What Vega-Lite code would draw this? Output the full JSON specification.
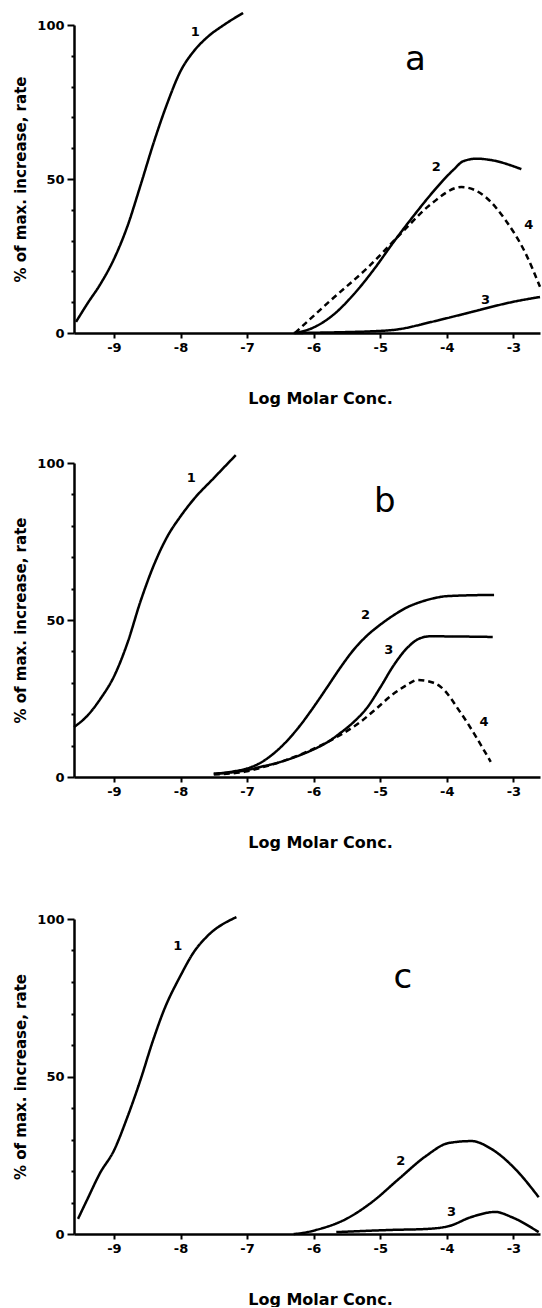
{
  "$schema": "https://vega.github.io/schema/vega-lite/v6.json",
  "padding": {"left": 13, "top": 7, "right": 0, "bottom": 0},
  "background": "white",
  "spacing": 44,
  "datasets": {
    "curves": [
      {"p":"a","c":"1","x":-9.57,"y":3.6},{"p":"a","c":"1","x":-9.4,"y":9.5},{"p":"a","c":"1","x":-9.2,"y":16},{"p":"a","c":"1","x":-9.0,"y":24},{"p":"a","c":"1","x":-8.8,"y":34.5},{"p":"a","c":"1","x":-8.6,"y":48},{"p":"a","c":"1","x":-8.4,"y":62},{"p":"a","c":"1","x":-8.2,"y":74.5},{"p":"a","c":"1","x":-8.0,"y":85},{"p":"a","c":"1","x":-7.8,"y":91.5},{"p":"a","c":"1","x":-7.6,"y":96},{"p":"a","c":"1","x":-7.35,"y":100},{"p":"a","c":"1","x":-7.06,"y":103.9},
      {"p":"a","c":"2","x":-6.28,"y":0},{"p":"a","c":"2","x":-6.0,"y":1.8},{"p":"a","c":"2","x":-5.7,"y":6},{"p":"a","c":"2","x":-5.4,"y":12.5},{"p":"a","c":"2","x":-5.1,"y":20.5},{"p":"a","c":"2","x":-4.8,"y":29.5},{"p":"a","c":"2","x":-4.5,"y":38},{"p":"a","c":"2","x":-4.2,"y":46},{"p":"a","c":"2","x":-3.9,"y":53},{"p":"a","c":"2","x":-3.75,"y":55.8},{"p":"a","c":"2","x":-3.55,"y":56.6},{"p":"a","c":"2","x":-3.35,"y":56.2},{"p":"a","c":"2","x":-2.88,"y":53.2},
      {"p":"a","c":"3","x":-6.3,"y":0},{"p":"a","c":"3","x":-5.5,"y":0.3},{"p":"a","c":"3","x":-5.18,"y":0.5},{"p":"a","c":"3","x":-4.73,"y":1.2},{"p":"a","c":"3","x":-4.23,"y":3.6},{"p":"a","c":"3","x":-3.63,"y":6.8},{"p":"a","c":"3","x":-3.03,"y":10},{"p":"a","c":"3","x":-2.6,"y":11.7},
      {"p":"a","c":"4","x":-6.28,"y":0},{"p":"a","c":"4","x":-5.74,"y":10.7},{"p":"a","c":"4","x":-5.18,"y":21.4},{"p":"a","c":"4","x":-4.68,"y":32.5},{"p":"a","c":"4","x":-4.23,"y":42},{"p":"a","c":"4","x":-3.78,"y":47.4},{"p":"a","c":"4","x":-3.42,"y":44.2},{"p":"a","c":"4","x":-3.12,"y":36.7},{"p":"a","c":"4","x":-2.82,"y":26},{"p":"a","c":"4","x":-2.6,"y":15},
      {"p":"b","c":"1","x":-9.6,"y":15.9},{"p":"b","c":"1","x":-9.4,"y":19.5},{"p":"b","c":"1","x":-9.2,"y":25},{"p":"b","c":"1","x":-9.0,"y":32},{"p":"b","c":"1","x":-8.8,"y":42.5},{"p":"b","c":"1","x":-8.6,"y":56},{"p":"b","c":"1","x":-8.4,"y":67.5},{"p":"b","c":"1","x":-8.2,"y":76.5},{"p":"b","c":"1","x":-8.0,"y":83},{"p":"b","c":"1","x":-7.8,"y":88.5},{"p":"b","c":"1","x":-7.5,"y":95.2},{"p":"b","c":"1","x":-7.17,"y":102.5},
      {"p":"b","c":"2","x":-7.5,"y":1},{"p":"b","c":"2","x":-7.2,"y":1.8},{"p":"b","c":"2","x":-7.0,"y":2.7},{"p":"b","c":"2","x":-6.8,"y":4.5},{"p":"b","c":"2","x":-6.6,"y":7.5},{"p":"b","c":"2","x":-6.4,"y":11.5},{"p":"b","c":"2","x":-6.2,"y":16.5},{"p":"b","c":"2","x":-6.0,"y":22.3},{"p":"b","c":"2","x":-5.8,"y":28.5},{"p":"b","c":"2","x":-5.6,"y":34.8},{"p":"b","c":"2","x":-5.4,"y":40.5},{"p":"b","c":"2","x":-5.2,"y":45},{"p":"b","c":"2","x":-5.0,"y":48.5},{"p":"b","c":"2","x":-4.8,"y":51.5},{"p":"b","c":"2","x":-4.6,"y":54},{"p":"b","c":"2","x":-4.4,"y":55.7},{"p":"b","c":"2","x":-4.2,"y":56.9},{"p":"b","c":"2","x":-4.0,"y":57.6},{"p":"b","c":"2","x":-3.29,"y":58},
      {"p":"b","c":"3","x":-7.5,"y":1},{"p":"b","c":"3","x":-7.0,"y":2.2},{"p":"b","c":"3","x":-6.8,"y":3.2},{"p":"b","c":"3","x":-6.5,"y":4.8},{"p":"b","c":"3","x":-6.2,"y":7},{"p":"b","c":"3","x":-6.0,"y":8.8},{"p":"b","c":"3","x":-5.8,"y":11},{"p":"b","c":"3","x":-5.6,"y":14},{"p":"b","c":"3","x":-5.4,"y":17.5},{"p":"b","c":"3","x":-5.2,"y":22},{"p":"b","c":"3","x":-5.0,"y":28.5},{"p":"b","c":"3","x":-4.8,"y":35.5},{"p":"b","c":"3","x":-4.6,"y":41},{"p":"b","c":"3","x":-4.4,"y":44.2},{"p":"b","c":"3","x":-4.25,"y":44.8},{"p":"b","c":"3","x":-3.31,"y":44.6},
      {"p":"b","c":"4","x":-7.5,"y":0.8},{"p":"b","c":"4","x":-7.0,"y":1.8},{"p":"b","c":"4","x":-6.8,"y":2.9},{"p":"b","c":"4","x":-6.5,"y":4.8},{"p":"b","c":"4","x":-6.15,"y":7.6},{"p":"b","c":"4","x":-5.85,"y":10.5},{"p":"b","c":"4","x":-5.55,"y":14},{"p":"b","c":"4","x":-5.3,"y":17.5},{"p":"b","c":"4","x":-5.1,"y":21},{"p":"b","c":"4","x":-4.8,"y":26.5},{"p":"b","c":"4","x":-4.6,"y":29.3},{"p":"b","c":"4","x":-4.44,"y":30.9},{"p":"b","c":"4","x":-4.2,"y":30},{"p":"b","c":"4","x":-4.09,"y":28.7},{"p":"b","c":"4","x":-3.79,"y":20.4},{"p":"b","c":"4","x":-3.34,"y":4.8},
      {"p":"c","c":"1","x":-9.54,"y":4.8},{"p":"c","c":"1","x":-9.4,"y":11},{"p":"c","c":"1","x":-9.21,"y":19.3},{"p":"c","c":"1","x":-9.0,"y":26.5},{"p":"c","c":"1","x":-8.8,"y":37},{"p":"c","c":"1","x":-8.6,"y":49},{"p":"c","c":"1","x":-8.42,"y":61},{"p":"c","c":"1","x":-8.25,"y":71},{"p":"c","c":"1","x":-8.0,"y":82},{"p":"c","c":"1","x":-7.8,"y":89.5},{"p":"c","c":"1","x":-7.6,"y":94.5},{"p":"c","c":"1","x":-7.16,"y":100.6},
      {"p":"c","c":"2","x":-6.3,"y":0},{"p":"c","c":"2","x":-6.17,"y":0.3},{"p":"c","c":"2","x":-5.96,"y":1.3},{"p":"c","c":"2","x":-5.51,"y":4.8},{"p":"c","c":"2","x":-5.12,"y":10.2},{"p":"c","c":"2","x":-4.72,"y":17.5},{"p":"c","c":"2","x":-4.31,"y":24.8},{"p":"c","c":"2","x":-3.97,"y":28.9},{"p":"c","c":"2","x":-3.63,"y":29.5},{"p":"c","c":"2","x":-3.33,"y":27},{"p":"c","c":"2","x":-2.97,"y":20.6},{"p":"c","c":"2","x":-2.62,"y":11.7},
      {"p":"c","c":"3","x":-5.66,"y":0.6},{"p":"c","c":"3","x":-4.82,"y":1.3},{"p":"c","c":"3","x":-4.31,"y":1.6},{"p":"c","c":"3","x":-3.97,"y":2.5},{"p":"c","c":"3","x":-3.63,"y":5.4},{"p":"c","c":"3","x":-3.27,"y":7},{"p":"c","c":"3","x":-3.03,"y":5.4},{"p":"c","c":"3","x":-2.62,"y":0.6}
    ],
    "labels": [
      {"p":"a","t":"1","x":-7.78,"y":97.7},{"p":"a","t":"2","x":-4.16,"y":54},{"p":"a","t":"3","x":-3.42,"y":10.7},{"p":"a","t":"4","x":-2.77,"y":35},
      {"p":"b","t":"1","x":-7.84,"y":95.2},{"p":"b","t":"2","x":-5.22,"y":51.6},{"p":"b","t":"3","x":-4.87,"y":40.4},{"p":"b","t":"4","x":-3.44,"y":17.5},
      {"p":"c","t":"1","x":-8.04,"y":91.4},{"p":"c","t":"2","x":-4.69,"y":23.2},{"p":"c","t":"3","x":-3.93,"y":7}
    ],
    "letters": [
      {"p":"a","t":"a","x":-4.47,"y":88.6},
      {"p":"b","t":"b","x":-4.93,"y":87.6},
      {"p":"c","t":"c","x":-4.66,"y":81.3}
    ]
  },
  "config": {
    "view": {"stroke": null},
    "axis": {
      "grid": false,
      "domainColor": "black",
      "domainWidth": 2.5,
      "tickColor": "black",
      "tickWidth": 2,
      "labelColor": "black",
      "labelFont": "DejaVu Sans",
      "labelFontWeight": "bold",
      "labelFontSize": 13,
      "labelOverlap": false,
      "titleColor": "black",
      "titleFont": "DejaVu Sans",
      "titleFontWeight": "bold"
    },
    "text": {"font": "DejaVu Sans", "color": "black"}
  },
  "vconcat": [
    {
      "width": 466, "height": 308,
      "encoding": {
        "x": {"field": "x", "type": "quantitative", "scale": {"domain": [-9.6, -2.6], "nice": false, "zero": false},
              "axis": {"values": [-9,-8,-7,-6,-5,-4,-3], "labelExpr": "'-' + abs(datum.value)", "tickSize": 5, "labelPadding": 3, "title": "Log Molar Conc.", "titleFontSize": 16, "titlePadding": 36, "titleX": 246}},
        "y": {"field": "y", "type": "quantitative", "scale": {"domain": [0, 100], "nice": false},
              "axis": {"values": [0,10,20,30,40,50,60,70,80,90,100], "labelExpr": "(datum.value == 0 || datum.value == 50 || datum.value == 100) ? '' + datum.value : ''", "tickSize": {"condition": {"test": "datum.value % 50 === 0", "value": 7}, "value": 3}, "labelPadding": 3, "title": "% of max. increase, rate", "titleFontSize": 15, "titlePadding": 8}}
      },
      "layer": [
        {
          "data": {"name": "curves"},
          "transform": [{"filter": "datum.p === 'a'"}],
          "mark": {"type": "line", "color": "black", "strokeWidth": 2.5, "interpolate": "monotone"},
          "encoding": {
            "detail": {"field": "c", "type": "nominal"},
            "strokeDash": {"field": "c", "type": "nominal", "scale": {"domain": ["1","2","3","4"], "range": [[1,0],[1,0],[1,0],[6,4]]}, "legend": null}
          }
        },
        {
          "data": {"name": "labels"},
          "transform": [{"filter": "datum.p === 'a'"}],
          "mark": {"type": "text", "fontSize": 13, "fontWeight": "bold", "align": "center", "baseline": "middle"},
          "encoding": {"text": {"field": "t"}}
        },
        {
          "data": {"name": "letters"},
          "transform": [{"filter": "datum.p === 'a'"}],
          "mark": {"type": "text", "fontSize": 34, "align": "center", "baseline": "middle"},
          "encoding": {"text": {"field": "t"}}
        }
      ]
    },
    {
      "width": 466, "height": 314,
      "encoding": {
        "x": {"field": "x", "type": "quantitative", "scale": {"domain": [-9.6, -2.6], "nice": false, "zero": false},
              "axis": {"values": [-9,-8,-7,-6,-5,-4,-3], "labelExpr": "'-' + abs(datum.value)", "tickSize": 5, "labelPadding": 3, "title": "Log Molar Conc.", "titleFontSize": 16, "titlePadding": 36, "titleX": 246}},
        "y": {"field": "y", "type": "quantitative", "scale": {"domain": [0, 100], "nice": false},
              "axis": {"values": [0,10,20,30,40,50,60,70,80,90,100], "labelExpr": "(datum.value == 0 || datum.value == 50 || datum.value == 100) ? '' + datum.value : ''", "tickSize": {"condition": {"test": "datum.value % 50 === 0", "value": 7}, "value": 3}, "labelPadding": 3, "title": "% of max. increase, rate", "titleFontSize": 15, "titlePadding": 8}}
      },
      "layer": [
        {
          "data": {"name": "curves"},
          "transform": [{"filter": "datum.p === 'b'"}],
          "mark": {"type": "line", "color": "black", "strokeWidth": 2.5, "interpolate": "monotone"},
          "encoding": {
            "detail": {"field": "c", "type": "nominal"},
            "strokeDash": {"field": "c", "type": "nominal", "scale": {"domain": ["1","2","3","4"], "range": [[1,0],[1,0],[1,0],[6,4]]}, "legend": null}
          }
        },
        {
          "data": {"name": "labels"},
          "transform": [{"filter": "datum.p === 'b'"}],
          "mark": {"type": "text", "fontSize": 13, "fontWeight": "bold", "align": "center", "baseline": "middle"},
          "encoding": {"text": {"field": "t"}}
        },
        {
          "data": {"name": "letters"},
          "transform": [{"filter": "datum.p === 'b'"}],
          "mark": {"type": "text", "fontSize": 34, "align": "center", "baseline": "middle"},
          "encoding": {"text": {"field": "t"}}
        }
      ]
    },
    {
      "width": 466, "height": 315,
      "title": {"text": " ", "fontSize": 10, "offset": 8},
      "encoding": {
        "x": {"field": "x", "type": "quantitative", "scale": {"domain": [-9.6, -2.6], "nice": false, "zero": false},
              "axis": {"values": [-9,-8,-7,-6,-5,-4,-3], "labelExpr": "'-' + abs(datum.value)", "tickSize": 5, "labelPadding": 3, "title": "Log Molar Conc.", "titleFontSize": 16, "titlePadding": 36, "titleX": 246}},
        "y": {"field": "y", "type": "quantitative", "scale": {"domain": [0, 100], "nice": false},
              "axis": {"values": [0,10,20,30,40,50,60,70,80,90,100], "labelExpr": "(datum.value == 0 || datum.value == 50 || datum.value == 100) ? '' + datum.value : ''", "tickSize": {"condition": {"test": "datum.value % 50 === 0", "value": 7}, "value": 3}, "labelPadding": 3, "title": "% of max. increase, rate", "titleFontSize": 15, "titlePadding": 8}}
      },
      "layer": [
        {
          "data": {"name": "curves"},
          "transform": [{"filter": "datum.p === 'c'"}],
          "mark": {"type": "line", "color": "black", "strokeWidth": 2.5, "interpolate": "monotone"},
          "encoding": {
            "detail": {"field": "c", "type": "nominal"},
            "strokeDash": {"field": "c", "type": "nominal", "scale": {"domain": ["1","2","3","4"], "range": [[1,0],[1,0],[1,0],[6,4]]}, "legend": null}
          }
        },
        {
          "data": {"name": "labels"},
          "transform": [{"filter": "datum.p === 'c'"}],
          "mark": {"type": "text", "fontSize": 13, "fontWeight": "bold", "align": "center", "baseline": "middle"},
          "encoding": {"text": {"field": "t"}}
        },
        {
          "data": {"name": "letters"},
          "transform": [{"filter": "datum.p === 'c'"}],
          "mark": {"type": "text", "fontSize": 34, "align": "center", "baseline": "middle"},
          "encoding": {"text": {"field": "t"}}
        }
      ]
    }
  ]
}
